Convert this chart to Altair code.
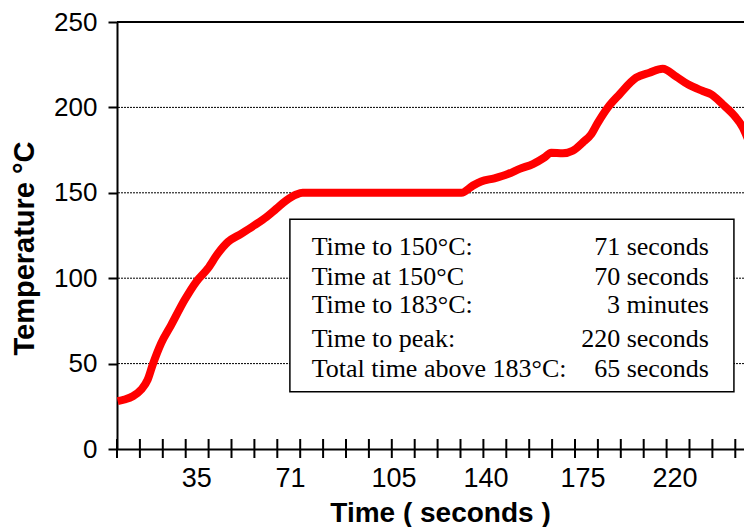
import altair as alt
import pandas as pd

# ---- data (x = position along the category axis, in tick units)
curve_pos = [0.03, 0.33, 0.69, 1.06, 1.34, 1.56, 1.93, 2.37, 2.95, 3.46, 3.97, 4.40,
             4.84, 5.42, 6.00, 6.52, 6.95, 7.39, 7.83, 8.11, 15.04, 15.54, 15.90,
             16.48, 17.07, 17.58, 18.16, 18.67, 18.96, 19.47, 19.90, 20.34, 20.71,
             21.00, 21.43, 21.94, 22.67, 23.25, 23.83, 24.42, 24.93, 25.58, 25.95,
             26.45, 26.97, 27.33, 27.69]
curve_temp = [28.0, 29.0, 30.9, 34.8, 40.6, 49.4, 62.0, 72.7, 87.2, 97.9, 105.7, 114.4,
              121.2, 126.0, 131.0, 135.8, 140.6, 145.5, 149.0, 150.0, 150.0, 154.2, 156.6,
              158.5, 161.0, 164.0, 166.8, 170.7, 173.5, 173.1, 174.6, 179.5, 184.3,
              191.1, 199.9, 207.6, 217.4, 220.3, 222.6, 218.0, 213.5, 209.6, 207.6,
              201.8, 195.0, 188.2, 176.6]

tick_pos = list(range(0, 28))
label_pos = [3.48, 7.58, 12.10, 16.11, 20.35, 24.37]
label_text = ["35", "71", "105", "140", "175", "220"]

y_values = [0, 50, 100, 150, 200, 250]
grid_values = [50, 100, 150, 200]
top_value = [250]

box_x0 = [7.55]
box_x1 = [26.94]
box_y0 = [134.5]
box_y1 = [33.5]

info_left = ["Time to 150°C:", "Time at 150°C", "Time to 183°C:", "Time to peak:",
             "Total time above 183°C:"]
info_right = ["71 seconds", "70 seconds", "3 minutes", "220 seconds", "65 seconds"]
info_y = [113.6, 96.0, 79.4, 59.9, 42.3]
info_left_x = 8.50
info_right_x = 25.85

# ---- chart
W, H = 627, 427
xscale = alt.Scale(domain=[0, 27.38], nice=False, zero=False)
yscale = alt.Scale(domain=[0, 250], nice=False, zero=False)
SANS = "Liberation Sans"
SERIF = "Liberation Serif"

xaxis = alt.Axis(domain=True, domainColor="black", domainWidth=2, ticks=False,
                 labels=False, grid=False, title="Time ( seconds )",
                 titleFont=SANS, titleFontSize=28, titleFontWeight="bold",
                 titleColor="black", titleX=323, titleY=72,
                 titleBaseline="alphabetic", titleAlign="center")
yaxis = alt.Axis(values=y_values, domainColor="black", domainWidth=2,
                 tickColor="black", tickWidth=2, tickSize=9, labelFont=SANS,
                 labelFontSize=26, labelColor="black", labelPadding=11, grid=False,
                 title="Temperature °C", titleFont=SANS, titleFontSize=29,
                 titleFontWeight="bold", titleColor="black", titleX=-83.5,
                 titleY=226, titleAngle=270, titleBaseline="alphabetic",
                 titleAlign="center")

X = lambda f: alt.X(f, scale=xscale, axis=xaxis)
Y = lambda f: alt.Y(f, scale=yscale, axis=yaxis)

grid = alt.Chart(pd.DataFrame({"g": grid_values})).mark_rule(
    color="black", strokeWidth=1, strokeDash=[2, 1]
).encode(y=Y("g:Q"))

top = alt.Chart(pd.DataFrame({"g": top_value})).mark_rule(
    color="black", strokeWidth=2
).encode(y=Y("g:Q"))

box = alt.Chart(pd.DataFrame({"x0": box_x0, "x1": box_x1, "y0": box_y0, "y1": box_y1})).mark_rect(
    fill="white", stroke="black", strokeWidth=1.5
).encode(x=X("x0:Q"), x2="x1:Q", y=Y("y0:Q"), y2="y1:Q")

info_df = pd.DataFrame({"left": info_left, "right": info_right, "y": info_y,
                        "lx": [info_left_x] * 5, "rx": [info_right_x] * 5})
text_left = alt.Chart(info_df).mark_text(
    font=SERIF, fontSize=26, align="left", baseline="alphabetic", color="black"
).encode(x=X("lx:Q"), y=Y("y:Q"), text="left:N")
text_right = alt.Chart(info_df).mark_text(
    font=SERIF, fontSize=26, align="right", baseline="alphabetic", color="black"
).encode(x=X("rx:Q"), y=Y("y:Q"), text="right:N")

line = alt.Chart(pd.DataFrame({"pos": curve_pos, "temp": curve_temp})).mark_line(
    color="#FF0000", strokeWidth=8, interpolate="monotone", clip=True,
    strokeJoin="round"
).encode(x=X("pos:Q"), y=Y("temp:Q"))

ticks = alt.Chart(pd.DataFrame({"pos": tick_pos})).mark_rule(
    color="black", strokeWidth=2
).encode(x=X("pos:Q"), y=alt.value(H - 10), y2=alt.value(H + 9))

labels = alt.Chart(pd.DataFrame({"pos": label_pos, "label": label_text})).mark_text(
    font=SANS, fontSize=27, align="center", baseline="alphabetic", color="black"
).encode(x=X("pos:Q"), y=alt.value(H + 38), text="label:N")

chart = alt.layer(grid, top, box, text_left, text_right, line, ticks, labels).properties(
    width=W, height=H,
    padding={"left": 109, "top": 14, "right": 0, "bottom": 78},
    autosize=alt.AutoSizeParams(type="none"),
    background="white",
).configure_view(stroke=None)

chart.save("out.html", embed_options={"renderer": "svg", "actions": False})
